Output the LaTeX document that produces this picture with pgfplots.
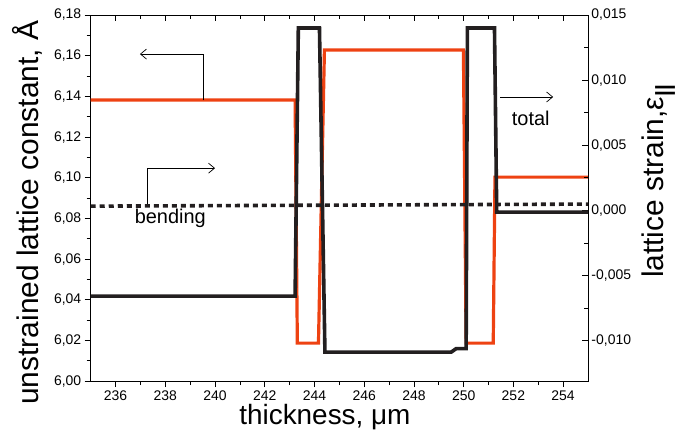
\documentclass[border=0pt]{standalone}
\usepackage{pgfplots}
\pgfplotsset{compat=1.18}
\usepackage{fontspec}
\setmainfont{Liberation Sans}
\usetikzlibrary{arrows.meta}
\definecolor{redline}{RGB}{238,66,18}
\definecolor{blackline}{RGB}{35,31,32}

\begin{document}
\begin{tikzpicture}
\pgfplotsset{
  common/.style={
    scale only axis, width=497bp, height=366bp,
    xmin=235, xmax=255,
    xtick={236,238,240,242,244,246,248,250,252,254},
    minor x tick num=1,
    minor y tick num=1,
    major tick length=6bp, minor tick length=4bp,
    every axis plot/.append style={line join=miter},
    tick style={line width=0.8bp, black},
    axis line style={line width=0.8bp},
    tick label style={font=\fontsize{14}{16}\selectfont},
    /pgf/number format/assume math mode=true,
    label style={font=\fontsize{30}{32}\selectfont},
  },
}
\begin{axis}[
  common, name=main,
  ymin=6.00, ymax=6.18,
  ytick={6.00,6.02,6.04,6.06,6.08,6.10,6.12,6.14,6.16,6.18},
  xtick pos=bottom, ytick pos=left, tick align=outside,
  yticklabel style={/pgf/number format/.cd, fixed, fixed zerofill, precision=2, use comma},
  xticklabel style={/pgf/number format/.cd, fixed, precision=0},
  xlabel={thickness, μm},
  ylabel={unstrained lattice constant, Å},
  xlabel style={at={(axis description cs:0.471,-0.098)}, anchor=center, font=\fontsize{28}{30}\selectfont},
  ylabel style={at={(axis description cs:-0.128,0.46)}, anchor=center, rotate=0},
]
% lattice constant (left axis)
\addplot[color=redline, line width=3.2bp, mark=none] coordinates {
  (235,6.1382) (243.22,6.1382) (243.31,6.0187) (244.16,6.0187)
  (244.40,6.1628) (249.99,6.1628) (250.10,6.0187) (251.19,6.0187)
  (251.26,6.1003) (255,6.1003)
};
% annotations
\draw[line width=0.7bp, -{Straight Barb[length=6bp,width=10bp]}]
  (axis cs:239.52,6.138) -- (axis cs:239.52,6.1608) -- (axis cs:236.98,6.1608);
\draw[line width=0.7bp, -{Straight Barb[length=6bp,width=10bp]}]
  (axis cs:237.27,6.0856) -- (axis cs:237.27,6.1047) -- (axis cs:240.0,6.1047);
\draw[line width=0.7bp, -{Straight Barb[length=6bp,width=10bp]}]
  (axis cs:251.47,6.1397) -- (axis cs:253.6,6.1397);
\node[font=\fontsize{20}{22}\selectfont] at (axis cs:238.2,6.080) {bending};
\node[font=\fontsize{20}{22}\selectfont] at (axis cs:252.7,6.129) {total};
\end{axis}

\begin{axis}[
  common,
  ymin=-0.0131, ymax=0.015,
  axis y line*=right, axis x line*=top,
  tick align=inside,
  xticklabels={},
  ytick={-0.010,-0.005,0,0.005,0.010,0.015},
  scaled y ticks=false,
  yticklabel style={/pgf/number format/.cd, fixed, fixed zerofill, precision=3, use comma},
  ylabel={lattice strain,ε\textsubscript{\textbf{||}}},
  ylabel style={at={(axis description cs:1.142,0.546)}, anchor=center, rotate=0},
]
% total strain (right axis)
\addplot[color=blackline, line width=3.6bp, mark=none] coordinates {
  (235,-0.00657) (243.22,-0.00657) (243.35,0.0140) (244.20,0.0140)
  (244.42,-0.01087) (249.50,-0.01087) (249.70,-0.0106) (250.10,-0.0106)
  (250.15,0.0140) (251.24,0.0140) (251.33,-0.00013) (255,-0.00013)
};
% bending strain (right axis)
\addplot[color=blackline, line width=3.6bp, dash pattern=on 5bp off 4bp, mark=none] coordinates {
  (235,0.00033) (255,0.00049)
};
\end{axis}
\pgfresetboundingbox
\path[use as bounding box] ([shift={(-90.7bp,-56bp)}]main.south west) rectangle ([shift={(87bp,15bp)}]main.north east);
\end{tikzpicture}
\end{document}
